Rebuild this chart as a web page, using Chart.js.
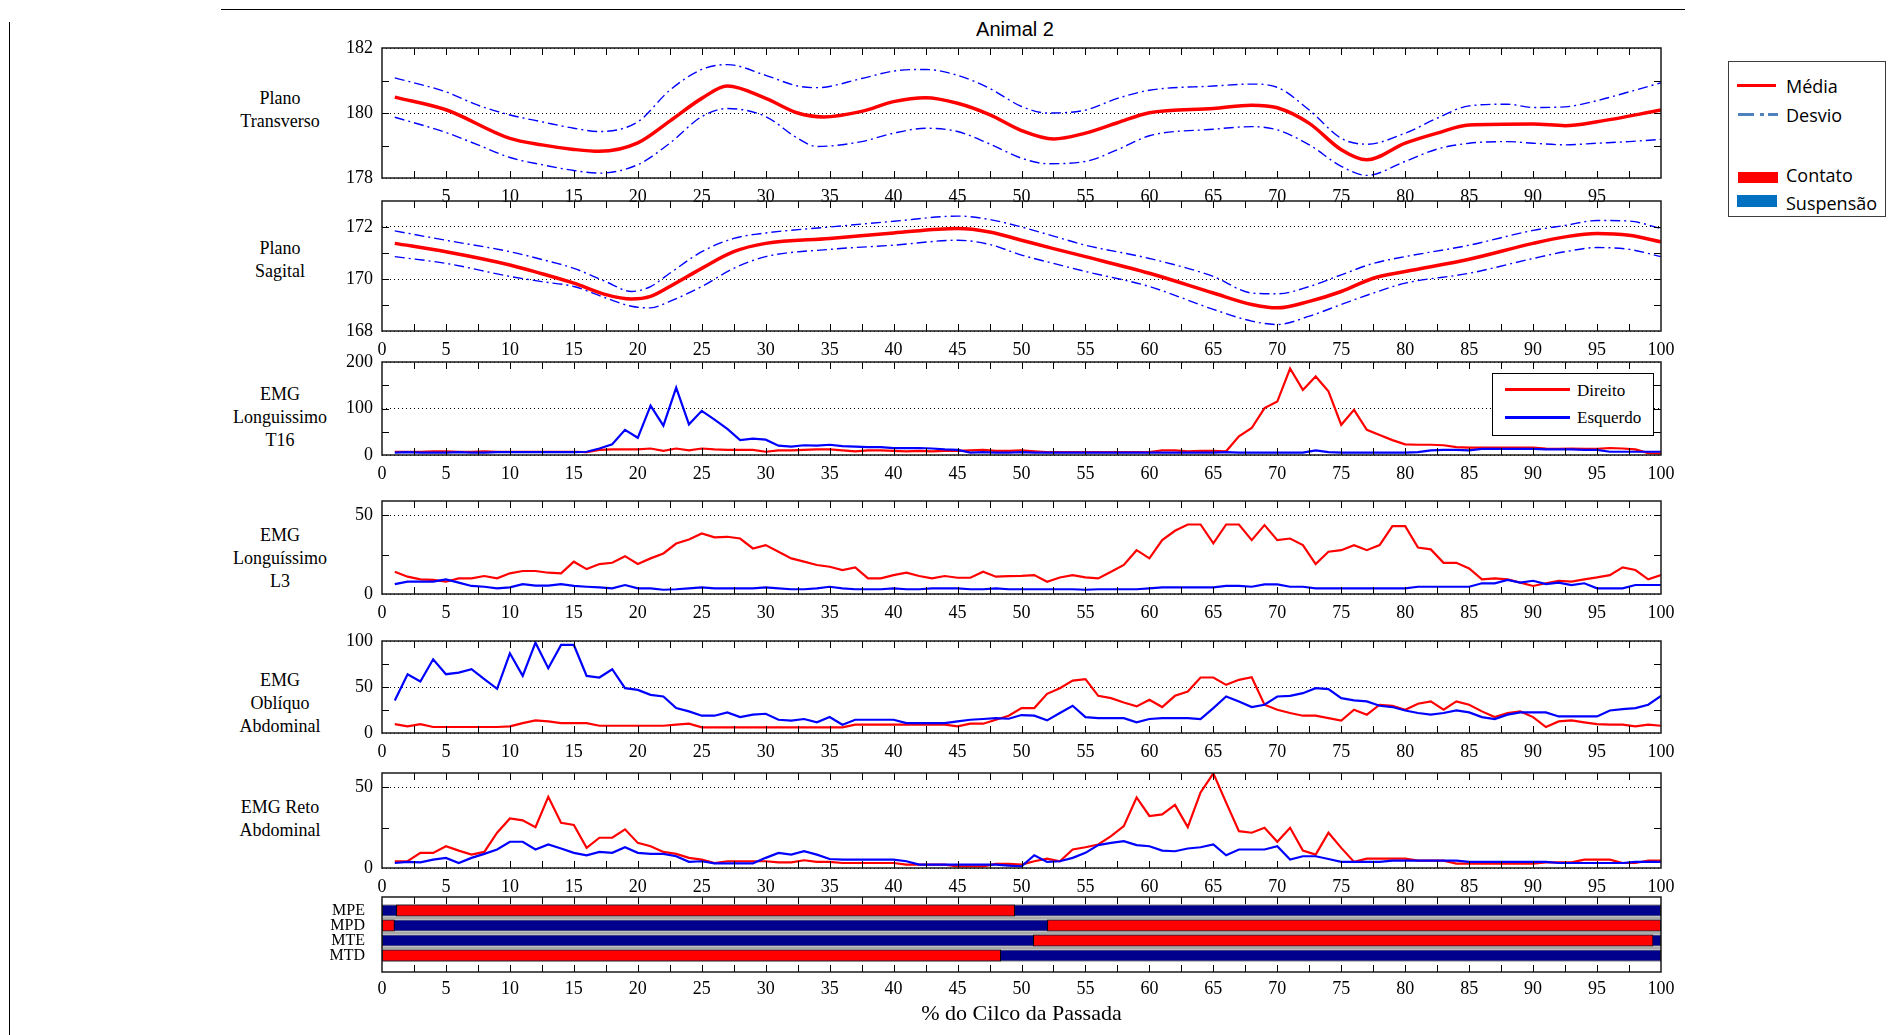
<!DOCTYPE html>
<html lang="pt-BR">
<head>
<meta charset="utf-8">
<title>Animal 2</title>
<script src="https://cdn.jsdelivr.net/npm/chart.js@4.4.1/dist/chart.umd.min.js"></script>
<style>
  html,body{margin:0;padding:0;background:#fff;}
  #fig{position:relative;width:1894px;height:1035px;overflow:hidden;font-family:'Liberation Serif','Times New Roman',serif;color:#000;}
  #fig canvas{position:absolute;left:282px;}
  .linha-topo{position:absolute;left:221px;top:9px;width:1464px;border-top:1px solid #000;}
  .linha-esq{position:absolute;left:9px;top:22px;height:1013px;border-left:1px solid #000;}
  .titulo{position:absolute;left:915px;top:17px;width:200px;text-align:center;font:20px 'Liberation Sans',Arial,sans-serif;line-height:24px;}
  .rot{position:absolute;left:200px;width:160px;text-align:center;font-size:18px;line-height:23px;}
  .leg-emg{position:absolute;left:1492px;top:373px;width:160px;height:61px;border:1px solid #000;background:#fff;font-size:17px;}
  .leg-emg .tr{position:absolute;left:12px;width:65px;height:3px;}
  .leg-emg .tx{position:absolute;left:84px;line-height:22px;}
  .leg-dir{position:absolute;left:1728px;top:61px;width:156px;height:154px;border:1px solid #3c3c3c;background:#fff;font:18px 'Open Sans',sans-serif;}
  .leg-dir .tx{position:absolute;left:57px;line-height:24px;}
  .leg-dir .sw{position:absolute;}
</style>
</head>
<body>
<div id="fig">
  <div class="linha-topo"></div>
  <div class="linha-esq"></div>
  <div class="titulo">Animal 2</div>

  <div class="rot" style="top:87px">Plano<br>Transverso</div>
  <div class="rot" style="top:237px">Plano<br>Sagital</div>
  <div class="rot" style="top:383px">EMG<br>Longuissimo<br>T16</div>
  <div class="rot" style="top:524px">EMG<br>Longuíssimo<br>L3</div>
  <div class="rot" style="top:669px">EMG<br>Oblíquo<br>Abdominal</div>
  <div class="rot" style="top:796px">EMG Reto<br>Abdominal</div>

  <canvas id="cTransverso" width="1399" height="180" style="top:28px"></canvas>
  <canvas id="cSagital"    width="1399" height="180" style="top:181px"></canvas>
  <canvas id="cT16"        width="1399" height="143" style="top:342px"></canvas>
  <canvas id="cL3"         width="1399" height="143" style="top:481px"></canvas>
  <canvas id="cObliquo"    width="1399" height="142" style="top:621px"></canvas>
  <canvas id="cReto"       width="1399" height="145" style="top:753px"></canvas>
  <canvas id="cApoio"      width="1399" height="154" style="top:877px"></canvas>

  <div class="leg-emg">
    <div class="tr" style="top:14px;background:#ff0000"></div>
    <div class="tx" style="top:6px">Direito</div>
    <div class="tr" style="top:42px;background:#0000ff"></div>
    <div class="tx" style="top:33px">Esquerdo</div>
  </div>

  <div class="leg-dir">
    <div class="sw" style="left:8px;top:22px;width:39px;height:3px;background:#ff0000"></div>
    <div class="tx" style="top:12px">Média</div>
    <div class="sw" style="left:9px;top:51px;width:16px;height:3px;background:#4f81bd"></div>
    <div class="sw" style="left:31px;top:51px;width:4px;height:3px;background:#4f81bd"></div>
    <div class="sw" style="left:39px;top:51px;width:10px;height:3px;background:#4f81bd"></div>
    <div class="tx" style="top:41px">Desvio</div>
    <div class="sw" style="left:9px;top:110px;width:40px;height:11px;background:#ff0000"></div>
    <div class="tx" style="top:101px">Contato</div>
    <div class="sw" style="left:8px;top:133px;width:40px;height:12px;background:#0070c0"></div>
    <div class="tx" style="top:129px">Suspensão</div>
  </div>
</div>

<script>
'use strict';

// ── EIXOS ────────────────────────────────────────────────
const rotulosX = [0,5,10,15,20,25,30,35,40,45,50,55,60,65,70,75,80,85,90,95,100];
const marcasX  = Array.from({length:39}, (_, i) => 2.5 * (i + 1));
const ciclo    = Array.from({length:100}, (_, i) => i + 1);

// ── PLANO TRANSVERSO ─────────────────────────────────────
const xMediaT  = [1,5,10,12.5,15,17,20,22.5,25,27,30,32.5,34.5,37.5,40,42.5,45,47.5,50,52.5,
                  55,57.5,60,65,68,70,72.5,75,77,80,82.5,85,90,92.5,95,100];
const mediaT   = [180.49,180.1,179.22,179.02,178.88,178.82,179.08,179.75,180.45,180.83,
                  180.45,180.0,179.88,180.05,180.35,180.47,180.3,179.95,179.46,179.2,
                  179.38,179.7,180.01,180.14,180.24,180.16,179.68,178.87,178.56,179.07,
                  179.38,179.63,179.66,179.61,179.73,180.09];
const xDesvioT = [1,5,7.5,10,12.5,15,17,20,22.5,25,27,30,32.5,34,37.5,40,42.5,45,47.5,50,
                  52,55,57.5,60,65,68,70,72.5,75,77,80,82.5,85,88,90,92.5,95,97.5,100];
const supT     = [181.08,180.65,180.24,179.94,179.73,179.53,179.43,179.73,180.70,181.34,
                  181.49,181.16,180.83,180.78,181.06,181.29,181.34,181.16,180.76,180.2,
                  180.0,180.09,180.45,180.70,180.83,180.89,180.79,180.09,179.22,179.04,
                  179.38,179.84,180.22,180.27,180.17,180.19,180.38,180.65,180.93];
const infT     = [179.87,179.4,179.02,178.63,178.41,178.23,178.15,178.41,179.07,179.89,
                  180.14,179.89,179.22,178.97,179.12,179.38,179.53,179.43,179.05,178.61,
                  178.44,178.51,178.87,179.3,179.5,179.58,179.48,179.02,178.36,178.08,
                  178.51,178.89,179.07,179.12,179.07,179.02,179.07,179.12,179.19];

// ── PLANO SAGITAL ────────────────────────────────────────
const xSagital = [1,5,10,12.5,15,17.5,19.5,21,22.5,25,27.5,30,35,40,45,47.5,50,52.5,55,60,
                  65,68,70,72.5,75,77.5,80,85,90,92.5,95,97.5,100];
const mediaS   = [171.37,171.05,170.54,170.2,169.84,169.4,169.23,169.33,169.71,170.41,
                  171.05,171.37,171.56,171.77,171.94,171.81,171.49,171.17,170.86,170.22,
                  169.46,169.02,168.89,169.14,169.52,170.03,170.29,170.76,171.37,171.62,
                  171.75,171.68,171.43];
const supS     = [171.85,171.49,171.05,170.75,170.41,169.9,169.52,169.71,170.22,171.05,
                  171.56,171.77,172.0,172.22,172.42,172.29,172.0,171.65,171.3,170.79,
                  170.1,169.46,169.43,169.71,170.16,170.6,170.86,171.3,171.87,172.06,
                  172.25,172.23,171.94];
const infS     = [170.86,170.6,170.1,169.9,169.71,169.27,168.95,168.89,169.14,169.71,
                  170.41,170.86,171.14,171.3,171.49,171.33,170.92,170.6,170.29,169.71,
                  168.83,168.38,168.25,168.57,169.02,169.46,169.84,170.22,170.79,171.05,
                  171.21,171.14,170.86];

// ── EMG LONGUISSIMO T16 ──────────────────────────────────
const dirT16 = [7,7,7,8,8,7,7,8,7,7, 7,7,7,7,7,6,11,12,12,12, 14,9,14,10,14,12,11,11,11,7,
                10,10,11,12,12,10,8,10,10,9, 8,9,8,9,9,10,11,9,9,10, 8,6,6,6,6,6,6,6,6,6,
                10,10,8,9,9,8,40,58,101,115, 186,140,169,137,65,97,54,43,32,23,
                22,22,21,17,16,16,16,16,16,16, 14,13,14,13,13,15,14,12,4,3];
const esqT16 = [5,6,5,5,5,6,5,5,6,6, 6,6,6,6,6,7,14,23,54,37, 106,63,145,66,95,76,56,32,35,33,
                20,18,21,20,22,19,18,17,17,15, 15,15,14,12,11,5,6,5,5,6, 5,5,5,5,5,5,5,5,5,5,
                5,5,5,5,5,6,5,5,5,5, 5,5,10,6,5,5,5,5,5,5,
                6,10,11,11,10,13,13,13,13,13, 12,12,12,11,11,7,7,7,7,7];

// ── EMG LONGUÍSSIMO L3 ───────────────────────────────────
const dirL3 = [14.1,11,9.3,8.9,7.8,9.9,9.9,11.4,9.9,13.1, 14.6,14.6,13.5,13.1,20.5,15.8,19,19.8,24,19,
               22.6,25.7,32,34.6,38.4,35.9,36.3,35.2,28.9,31, 26.8,22.6,20.5,18.4,17.3,15.2,16.9,9.9,9.9,12,
               13.5,11.4,9.9,11.4,10.3,10.3,14.1,11,11.4,11.5, 12,7.8,10.5,12,10.5,9.9,14.1,18.4,27.8,22.6,
               34.2,40.1,44.1,44.1,32.1,44.1,44.1,34.2,43.7,34.2, 35.2,31,19,26.8,27.8,31,27.8,31,43,43,
               29.5,28.3,19.8,19.8,16.2,9.3,9.9,9.3,7.2,5.1, 6.8,8.4,7.8,9.3,10.5,12,16.9,15.2,9.3,12];
const esqL3 = [6.3,7.8,7.8,7.8,9.3,7.2,5.1,4.6,3.6,4.2, 6.3,5.3,5.3,6.3,5.1,4.6,4.2,3.6,5.7,3.6,
               3.6,2.7,3,3.6,4.2,3.6,3.6,3.6,3.6,4.2, 3.6,3,3,3.6,4.6,3.6,3,3,3,3.6,
               3,3,3.6,3.6,3.6,3,3,3.6,3,3, 3,3,3,3,2.7,3,3,3,3,3.6,
               4.2,4.2,4.2,4.2,4.2,5.1,5.1,4.6,6.1,6.1, 4.6,4.6,3.6,3.6,3.6,3.6,3.6,3.6,3.6,3.6,
               4.6,4.6,4.6,4.6,4.6,6.8,6.8,8.9,7.2,8.4, 6.3,7.2,5.7,6.8,3.6,3.6,3.6,5.7,5.7,5.7];

// ── EMG OBLÍQUO ABDOMINAL ────────────────────────────────
const dirObl = [9.7,7.2,9.7,6.5,6.5,6.5,6.5,6.5,6.5,7.2, 10.8,13.7,12.6,10.8,10.8,10.8,7.9,7.9,7.9,7.9,
                7.9,7.9,9,10.1,6.1,6.1,6.1,6.1,6.1,6.1, 6.1,6.1,6.1,6.1,6.1,6.1,9,9,9,9,
                9,9,9,9,7.2,10.1,10.1,14.4,18.8,27.1, 27.1,42.6,48.7,57,58.5,40.4,37.9,33.2,28.9,36.1,
                28.2,40.4,45.1,60.3,60.3,52.3,57.8,60.6,30.7,25.3, 21.7,18.8,18.8,16.2,13.4,25.3,19.9,30.7,29.6,25.3,
                31.8,34.3,25.3,34.3,30.7,23.5,17.3,21.7,23.5,17.3, 6.5,12.6,13.7,11.6,9.7,9,9,7.2,9,7.9];
const esqObl = [35.4,63.9,56,80.1,63.9,65.7,69.3,58.5,48,86.6, 62.1,98.2,70.4,95.7,95.7,62.1,60.3,69.3,48.7,46.9,
                41.5,39.7,27.1,23.5,18.8,18.8,22.4,17.3,19.9,20.9, 14.4,13.4,15.2,11.6,17.3,9,14.4,14.4,14.4,14.4,
                10.8,10.8,10.8,10.8,12.6,14.4,15.2,16.2,15.5,19.5, 18.8,13.7,21.7,29.6,17.3,16.2,16.2,16.2,11.6,15.2,
                16.2,16.2,16.2,15.2,27.1,39.7,34.3,28.2,30.7,39.7, 40.4,43.3,48.7,47.7,37.9,35.4,34.3,29.6,28.2,24.5,
                21.7,19.9,21.7,24.5,22.4,17.3,15.2,19.9,22.4,22.4, 22.4,18,18,18,18,24.5,26,27.1,30.7,40.4];

// ── EMG RETO ABDOMINAL ───────────────────────────────────
const dirReto = [4.2,4.2,9.4,9.4,13.5,10.8,8.3,10,21.9,30.8, 29.6,25.4,44.2,28.1,26.7,12.5,18.8,18.8,24,15.6,
                 13.5,10,8.8,6.3,5.2,3.1,4.2,4.2,4.2,4.2, 3.5,3.5,4.8,3.8,3.8,3.1,3.1,3.1,3.1,3.1,
                 2.1,2.1,2.1,2.1,1,1,1,2.5,2.5,2.1, 4.2,5.8,4.2,11.5,12.9,14.6,19.8,26,43.8,32.3,
                 33.3,39.2,25.4,46.9,58.8,40.6,22.9,21.9,25,16.3, 25,10.8,8.3,21.9,12.5,3.8,5.8,5.8,5.8,5.8,
                 4.6,4.6,4.6,2.7,2.7,2.7,2.7,2.7,2.7,2.7, 3.5,3.5,3.5,5.2,5.2,5.2,3.1,3.1,4.6,4.6];
const esqReto = [3.1,3.8,3.5,5.2,6.3,3.1,6.3,8.8,11.5,16.3, 16.3,11.5,14.6,12.1,9.4,7.9,10,9.4,12.9,9.4,
                 8.8,8.8,7.3,3.8,4.2,2.9,2.9,2.9,2.9,6.3, 9.4,8.3,10.4,8.3,5.6,5.2,5.2,5.2,5.2,5.2,
                 4.2,2.1,2.1,2.1,2.1,2.1,2.1,2.1,1.5,1, 7.9,3.8,4.2,6.3,9.4,14.2,15.6,16.7,14.2,13.5,
                 10.8,10.4,12.1,12.9,14.6,7.9,11.5,11.5,11.5,13.5, 5.2,7.3,7.3,5.6,3.8,3.8,3.8,3.8,4.6,4.6,
                 4.6,4.6,4.6,4.6,3.8,3.8,3.8,3.8,3.8,3.8, 3.8,3.1,3.1,3.1,3.1,3.1,3.1,3.8,3.8,3.8];

// ── FASES DE APOIO ───────────────────────────────────────
const membros      = ['MPE','MPD','MTE','MTD'];
const linhasMembro = [1,2,3,4];
const contatoLinha = [1,2,2,3,4];
const contatoIni   = [1.1,0,52.0,50.9,0];
const contatoFim   = [49.5,1.0,100,99.4,48.4];
const separadores  = [1.5,2.5,3.5];

// ── PLUGIN: MOLDURA + MARCAS INTERNAS ────────────────────
const molduraPlugin = {
  id:'moldura',
  beforeDatasetsDraw(chart, args, o){
    if(!o.separadores) return;
    const {ctx, chartArea:a, scales:{y}} = chart;
    ctx.save();
    ctx.strokeStyle = '#a9a9a9';
    ctx.lineWidth = 2;
    ctx.beginPath();
    o.separadores.forEach(v => {
      const py = y.getPixelForValue(v);
      ctx.moveTo(a.left, py); ctx.lineTo(a.right, py);
    });
    ctx.stroke();
    ctx.restore();
  },
  afterDatasetsDraw(chart, args, o){
    const {ctx, chartArea:a, scales:{x, y}} = chart;
    const t = 7;
    ctx.save();
    ctx.strokeStyle = '#000';
    ctx.lineWidth = 1;
    ctx.beginPath();
    (o.marcasX || []).forEach(v => {
      const px = Math.round(x.getPixelForValue(v)) + 0.5;
      ctx.moveTo(px, a.top);    ctx.lineTo(px, a.top + t);
      ctx.moveTo(px, a.bottom); ctx.lineTo(px, a.bottom - t);
    });
    (o.marcasY || []).forEach(v => {
      const py = Math.round(y.getPixelForValue(v)) + 0.5;
      ctx.moveTo(a.left, py);  ctx.lineTo(a.left + t, py);
      ctx.moveTo(a.right, py); ctx.lineTo(a.right - t, py);
    });
    ctx.stroke();
    ctx.strokeStyle = '#1a1a1a';
    ctx.lineWidth = 1.5;
    ctx.strokeRect(a.left, a.top, a.right - a.left, a.bottom - a.top);
    ctx.restore();
  }
};

Chart.defaults.font.family = "'Liberation Serif','Times New Roman',serif";
Chart.defaults.font.size = 18;
Chart.defaults.color = '#000';
Chart.defaults.elements.point.radius = 0;

const Painel = {
  _serie(ys, xs){ return ys.map((y, i) => ({ x: xs[i], y })); },

  // ── OPÇÕES BASE ──────────────────────────────────────────
  _opcoes(cfg){
    return {
      responsive:false,
      animation:false,
      events:[],
      layout:{ padding:{ top:20, right:20, bottom:0, left:0 } },
      plugins:{
        legend:{ display:false },
        tooltip:{ enabled:false },
        moldura:{ marcasX, marcasY:cfg.marcasY }
      },
      scales:{
        x:{
          type:'linear', min:0, max:100,
          afterBuildTicks: s => { s.ticks = rotulosX.map(v => ({ value:v })); },
          afterFit: s => { s.height = 30; },
          ticks:{ autoSkip:false, maxRotation:0, padding:0,
                  callback: v => (cfg.semExtremos && (v === 0 || v === 100)) ? '' : v },
          grid:{ display:false },
          border:{ display:false }
        },
        y:{
          type:'linear', min:cfg.min, max:cfg.max,
          afterBuildTicks: s => { s.ticks = cfg.rotulosY.map(v => ({ value:v })); },
          afterFit: s => { s.width = 100; },
          ticks:{ padding:9, autoSkip:false },
          grid:{ color:'#000', lineWidth:1, drawTicks:false },
          border:{ display:false, dash:[1,3] }
        }
      }
    };
  },

  // ── MÉDIA ± DESVIO ───────────────────────────────────────
  curvas(id, cfg){
    const suave = { pointRadius:0, fill:false, cubicInterpolationMode:'monotone' };
    new Chart(document.getElementById(id), {
      type:'line',
      data:{ datasets:[
        { ...suave, label:'Média',  data:this._serie(cfg.media, cfg.xMedia), borderColor:'#ff0000', borderWidth:3.5, order:0 },
        { ...suave, label:'Desvio', data:this._serie(cfg.sup, cfg.xDesvio),  borderColor:'#0000ff', borderWidth:1.4, borderDash:[10,4,2,4], order:1 },
        { ...suave, label:'Desvio', data:this._serie(cfg.inf, cfg.xDesvio),  borderColor:'#0000ff', borderWidth:1.4, borderDash:[10,4,2,4], order:1 }
      ]},
      options:this._opcoes(cfg),
      plugins:[molduraPlugin]
    });
  },

  // ── EMG DIREITO / ESQUERDO ───────────────────────────────
  emg(id, cfg){
    const reta = { pointRadius:0, fill:false, tension:0, borderWidth:2.2 };
    new Chart(document.getElementById(id), {
      type:'line',
      data:{ datasets:[
        { ...reta, label:'Direito',  data:this._serie(cfg.dir, ciclo), borderColor:'#ff0000', order:1 },
        { ...reta, label:'Esquerdo', data:this._serie(cfg.esq, ciclo), borderColor:'#0000ff', order:0 }
      ]},
      options:this._opcoes(cfg),
      plugins:[molduraPlugin]
    });
  },

  // ── CONTATO / SUSPENSÃO ──────────────────────────────────
  apoio(id){
    const barra = { borderColor:'#000', borderWidth:1, borderSkipped:false, grouped:false,
                    barPercentage:0.8, categoryPercentage:1 };
    new Chart(document.getElementById(id), {
      type:'bar',
      data:{ datasets:[
        { ...barra, label:'Suspensão', order:1, backgroundColor:'#00008c',
          data:linhasMembro.map(l => ({ y:l, x:[0,100] })) },
        { ...barra, label:'Contato', order:0, backgroundColor:'#ff0000',
          data:contatoLinha.map((l, i) => ({ y:l, x:[contatoIni[i], contatoFim[i]] })) }
      ]},
      options:{
        indexAxis:'y',
        responsive:false,
        animation:false,
        events:[],
        layout:{ padding:{ top:20, right:20, bottom:0, left:0 } },
        plugins:{ legend:{ display:false }, tooltip:{ enabled:false },
                  moldura:{ marcasX, separadores } },
        scales:{
          x:{
            type:'linear', min:0, max:100, stacked:false,
            afterBuildTicks: s => { s.ticks = rotulosX.map(v => ({ value:v })); },
            afterFit: s => { s.height = 59; },
            ticks:{ autoSkip:false, maxRotation:0, padding:-2 },
            grid:{ display:false },
            border:{ display:false },
            title:{ display:true, text:'% do Cilco da Passada', font:{ size:22 } }
          },
          y:{
            type:'linear', min:0.1, max:5.1, reverse:true, stacked:true, offset:false,
            afterBuildTicks: s => { s.ticks = linhasMembro.map(v => ({ value:v })); },
            afterFit: s => { s.width = 100; },
            ticks:{ padding:9, autoSkip:false, font:{ size:16 }, callback: v => membros[v - 1] || '' },
            grid:{ display:false },
            border:{ display:false }
          }
        }
      },
      plugins:[molduraPlugin]
    });
  }
};

Painel.curvas('cTransverso', { xMedia:xMediaT, media:mediaT, xDesvio:xDesvioT, sup:supT, inf:infT,
  min:178, max:182, rotulosY:[178,180,182], marcasY:[179,180,181], semExtremos:true });
Painel.curvas('cSagital', { xMedia:xSagital, media:mediaS, xDesvio:xSagital, sup:supS, inf:infS,
  min:168, max:173, rotulosY:[168,170,172], marcasY:[169,170,171,172] });
Painel.emg('cT16',     { dir:dirT16,  esq:esqT16,  min:0, max:200, rotulosY:[0,100,200], marcasY:[50,100,150] });
Painel.emg('cL3',      { dir:dirL3,   esq:esqL3,   min:0, max:59,  rotulosY:[0,50],      marcasY:[25,50] });
Painel.emg('cObliquo', { dir:dirObl,  esq:esqObl,  min:0, max:100, rotulosY:[0,50,100],  marcasY:[25,50,75] });
Painel.emg('cReto',    { dir:dirReto, esq:esqReto, min:0, max:59,  rotulosY:[0,50],      marcasY:[25,50] });
Painel.apoio('cApoio');
</script>
</body>
</html>
